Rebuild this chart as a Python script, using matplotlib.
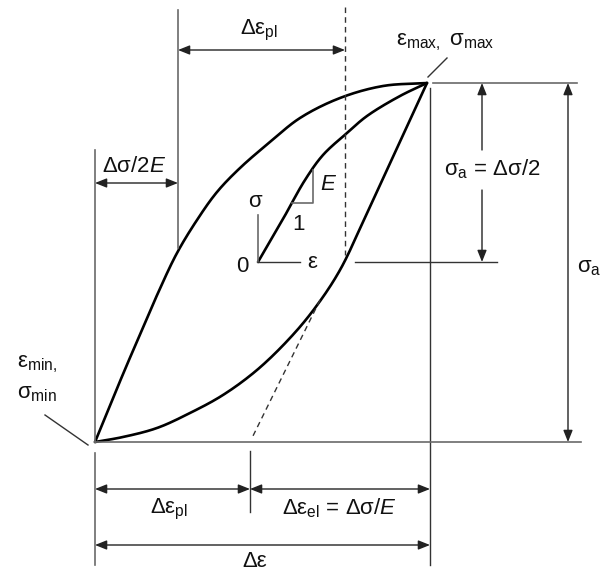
import numpy as np
import matplotlib
matplotlib.use("Agg")
import matplotlib.pyplot as plt

plt.rcParams["font.family"] = ["Liberation Sans", "DejaVu Sans"]
plt.rcParams["mathtext.fontset"] = "custom"
plt.rcParams["mathtext.rm"] = "Liberation Sans"
plt.rcParams["mathtext.it"] = "Liberation Sans:italic"
plt.rcParams["mathtext.default"] = "regular"

# Hysteresis loop geometry (drawing units, stress axis points downward on screen)
eps_min, sig_min = 95, 442
eps_max, sig_max = 427, 83
eps_pl_end = 250          # strain where elastic unloading line reaches sigma_min
mid_sig = 262             # mean stress level (origin of the sketch axes)
origin_eps = 258

# Loading branch (min -> max)
upper_eps = [95, 111, 126, 142, 158, 177, 197, 217, 240, 270, 300, 340, 383, 427]
upper_sig = [442, 403, 367, 330, 293, 253, 220, 192, 168, 142, 118, 98, 86, 83]

# Unloading branch (max -> min)
lower_eps = [427, 367, 340, 315, 290, 257, 223, 190, 157, 123, 95]
lower_sig = [83, 213, 270, 308, 338, 370, 395, 413, 428, 437, 442]

# Initial (monotonic) loading curve from the origin
inner_eps = [258, 283, 305, 323, 347, 367, 400, 427]
inner_sig = [262, 219, 180, 155, 133, 116, 96, 83]


def smooth_path(xs, ys, n=24, alpha=0.5):
    """Centripetal Catmull-Rom curve through the given points."""
    P = np.column_stack([xs, ys]).astype(float)
    P = np.vstack([2 * P[0] - P[1], P, 2 * P[-1] - P[-2]])
    out = []
    for i in range(len(P) - 3):
        p0, p1, p2, p3 = P[i:i + 4]
        t0 = 0.0
        t1 = t0 + np.linalg.norm(p1 - p0) ** alpha
        t2 = t1 + np.linalg.norm(p2 - p1) ** alpha
        t3 = t2 + np.linalg.norm(p3 - p2) ** alpha
        t = np.linspace(t1, t2, n, endpoint=False)[:, None]
        a1 = (t1 - t) / (t1 - t0) * p0 + (t - t0) / (t1 - t0) * p1
        a2 = (t2 - t) / (t2 - t1) * p1 + (t - t1) / (t2 - t1) * p2
        a3 = (t3 - t) / (t3 - t2) * p2 + (t - t2) / (t3 - t2) * p3
        b1 = (t2 - t) / (t2 - t0) * a1 + (t - t0) / (t2 - t0) * a2
        b2 = (t3 - t) / (t3 - t1) * a2 + (t - t1) / (t3 - t1) * a3
        out.append((t2 - t) / (t2 - t1) * b1 + (t - t1) / (t2 - t1) * b2)
    out.append(P[-2:-1])
    return np.vstack(out)


fig = plt.figure(figsize=(6.02, 5.73), dpi=100)
ax = fig.add_axes([0, 0, 1, 1])
ax.set_xlim(0, 602)
ax.set_ylim(573, 0)
ax.axis("off")

CURVE = dict(color="black", lw=1.9, solid_capstyle="round", solid_joinstyle="round")
GUIDE = dict(color="#6a6a6a", lw=1.2)
DARK = dict(color="#333333", lw=1.0)
FS = 16

for xs, ys in [(upper_eps, upper_sig), (lower_eps, lower_sig), (inner_eps, inner_sig)]:
    c = smooth_path(xs, ys)
    ax.plot(c[:, 0], c[:, 1], **CURVE)

# Elastic unloading line continued (dashed) down to sigma_min
slope = (eps_pl_end - eps_max) / (sig_min - sig_max)
dash_sig = np.array([300, 436])
ax.plot(eps_max + slope * (dash_sig - sig_max), dash_sig, color="#333333", lw=1.0,
        ls=(0, (4, 3)))

# Vertical dashed line through the elastic line at mean stress
ax.plot([345, 345], [7, 255], color="#333333", lw=1.0, ls=(0, (4, 3)))

# Reference lines
ax.plot([eps_min, eps_min], [150, sig_min], **GUIDE)
ax.plot([eps_min, eps_min], [453, 565], **GUIDE)
ax.plot([178, 178], [10, 248], **GUIDE)
ax.plot([430, 430], [88, 565], **DARK)
ax.plot([eps_pl_end, eps_pl_end], [451, 512], **DARK)
ax.plot([433, 577], [sig_max, sig_max], **GUIDE)
ax.plot([355, 497], [mid_sig, mid_sig], **DARK)
ax.plot([eps_min, 581], [sig_min, sig_min], **GUIDE)

# Sketch axes and slope triangle
ax.plot([origin_eps, origin_eps], [215, mid_sig], **GUIDE)
ax.plot([origin_eps, 300], [mid_sig, mid_sig], **DARK)
ax.plot([292, 313, 313], [203, 203, 170], **GUIDE)

# Leader lines
ax.plot([428, 447], [77, 58], **DARK)
ax.plot([45, 88], [415, 445], **DARK)

ARW = dict(arrowstyle="<|-|>,head_length=0.5,head_width=0.2", color="#222222",
           lw=1.0, shrinkA=0, shrinkB=0, mutation_scale=14)
ARW1 = dict(ARW, arrowstyle="-|>,head_length=0.5,head_width=0.2")


def dim(x0, y0, x1, y1, props=ARW):
    ax.annotate("", xy=(x1, y1), xytext=(x0, y0), arrowprops=props)


dim(178, 50, 345, 50)
dim(eps_min, 183, 178, 183)
dim(482, 150, 482, sig_max, ARW1)
dim(482, 190, 482, mid_sig, ARW1)
dim(568, sig_max, 568, sig_min)
dim(eps_min, 489, eps_pl_end, 489)
dim(eps_pl_end, 489, 430, 489)
dim(eps_min, 545, 430, 545)

# Labels
T = dict(fontsize=FS, color="#111111")
ax.text(259, 34, r"$Δε_{pl}$", ha="center", va="baseline", **T)
ax.text(134, 172, r"$Δσ/2\mathit{E}$", ha="center", va="baseline", **T)
ax.text(492, 175, r"$σ_{a}$ = $Δσ/2$", ha="center", va="baseline", **T)
ax.text(445, 45, r"$ε_{max,}\ σ_{max}$", ha="center", va="baseline", **T)
ax.text(17, 367, r"$ε_{min,}$", ha="left", va="baseline", **T)
ax.text(17, 398, r"$σ_{min}$", ha="left", va="baseline", **T)
ax.text(255, 207, "σ", ha="center", va="baseline", **T)
ax.text(242, 267, "0", ha="center", va="center", **T)
ax.text(312, 263, "ε", ha="center", va="center", **T)
ax.text(298, 225, "1", ha="center", va="center", **T)
ax.text(328, 185, "E", ha="center", va="center", style="italic", **T)
ax.text(169, 513, r"$Δε_{pl}$", ha="center", va="baseline", **T)
ax.text(339, 514, r"$Δε_{el}$ = $Δσ/\mathit{E}$", ha="center", va="baseline", **T)
ax.text(255, 567, "Δε", ha="center", va="baseline", **T)
ax.text(577, 268, r"$σ_{a}$", ha="left", va="center", **T)

fig.savefig("out.png", dpi=100)
